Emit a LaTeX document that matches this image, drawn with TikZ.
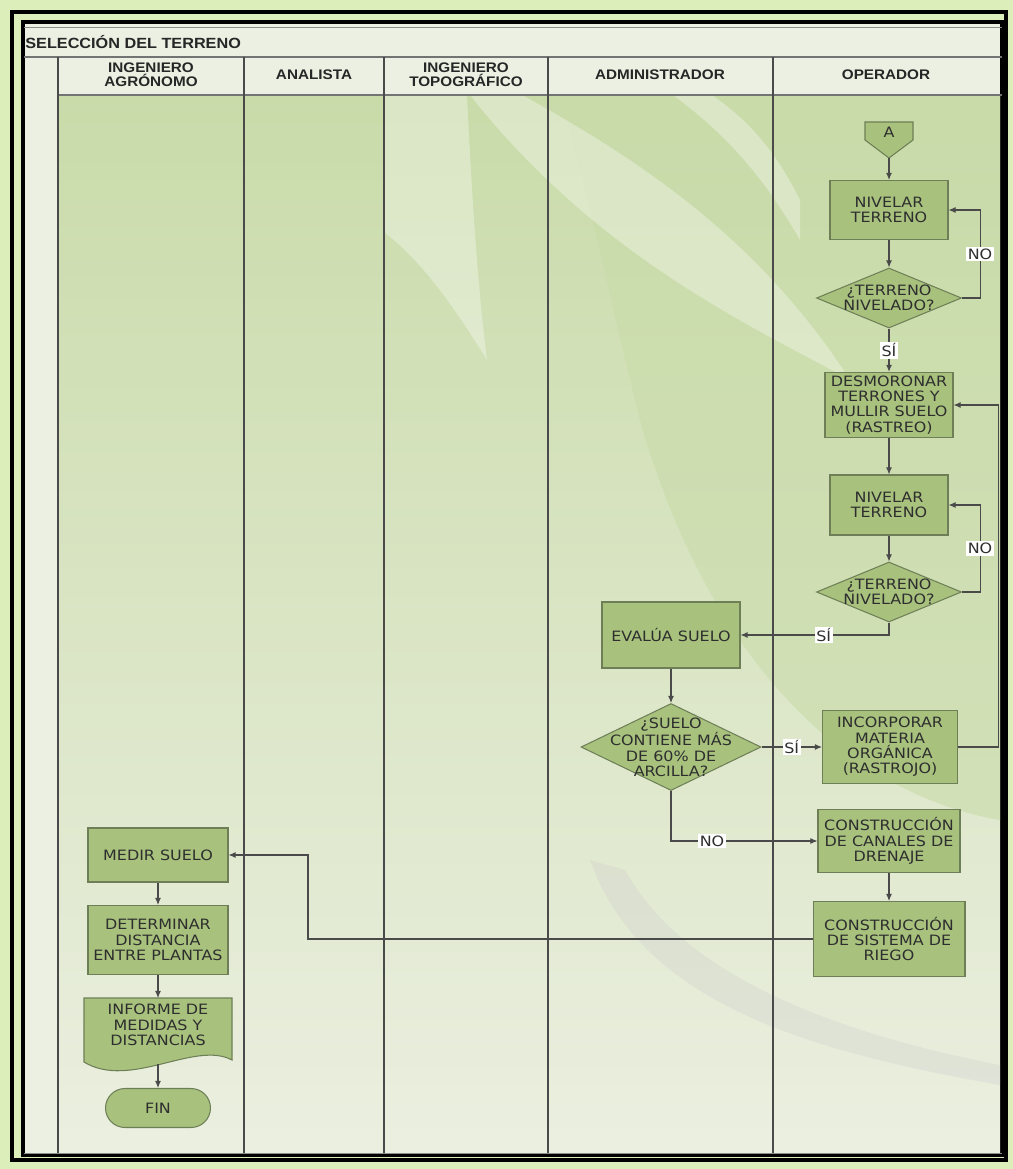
\documentclass[tikz,border=0pt]{standalone}
\usepackage{fontspec}
\usetikzlibrary{shapes.geometric,shapes.misc,arrows.meta}
\newfontfamily\cajafont[FakeStretch=1.12]{DejaVu Sans}
\newfontfamily\encfont[FakeStretch=1.1]{Liberation Sans}
\definecolor{verdecaja}{HTML}{A8C27E}
\definecolor{bordecaja}{HTML}{6E7F57}
\definecolor{textocaja}{HTML}{2E2E2E}
\definecolor{lima}{HTML}{DCEFBA}
\definecolor{fondoclaro}{HTML}{ECF0E2}
\definecolor{carril}{HTML}{C9DBA9}
\definecolor{carrilbajo}{HTML}{EBEFE0}
\definecolor{linea}{HTML}{4A4A4A}

\tikzset{
  caja/.style={draw=bordecaja, fill=verdecaja, line width=0.6pt, text=textocaja,
    font=\cajafont\fontsize{8.1}{8.7}\selectfont, align=center, inner sep=2pt},
  decision/.style={diamond, draw=bordecaja, fill=verdecaja, line width=0.6pt, inner sep=0pt},
  textodec/.style={text=textocaja, font=\cajafont\fontsize{8.1}{8.7}\selectfont, align=center, inner sep=0pt},
  flecha/.style={draw=linea, line width=0.6pt, -{Latex[length=4pt,width=3.4pt]}},
  etiq/.style={fill=white, inner sep=1pt, text=textocaja, font=\cajafont\fontsize{8.1}{8.7}\selectfont},
  cabecera/.style={text=black!85, font=\encfont\bfseries\fontsize{7.9}{7.8}\selectfont, align=center},
  carrilinea/.style={draw=linea, line width=0.7pt},
  brillo/.style={fill=white, fill opacity=0.33, draw=none},
}

\begin{document}
\begin{tikzpicture}[x={(0.02cm,0)}, y={(0,-0.02cm)}]
    \useasboundingbox (0,0) rectangle (1013,1169);
    % marco
    \fill[lima] (0,0) rectangle (1013,1169);
    \fill[fondoclaro] (24,23) rectangle (1002,1155);
    \draw[black, line width=2.6pt] (12,12) rectangle (1006,1160);
    \draw[black, line width=2.2pt] (23,22) rectangle (1002,1155);
    % carriles
    \fill[top color=carril, bottom color=carrilbajo] (58,95) rectangle (1000,1153);
    \fill[carril, fill opacity=0.6] (560,95) -- (1000,95) -- (1000,820) .. controls (880,800) and (720,700) .. (640,420) .. controls (610,300) and (590,200) .. (560,95) -- cycle;
    \fill[brillo] (384,95) -- (467,95) .. controls (472,200) and (478,290) .. (487,360) .. controls (450,300) and (420,260) .. (384,232) -- cycle;
    \fill[brillo] (470,95) -- (522,95) .. controls (640,160) and (760,240) .. (850,380) .. controls (760,330) and (600,260) .. (470,95) -- cycle;
    \fill[brillo] (673,95) -- (712,95) .. controls (740,115) and (770,140) .. (800,200) -- (800,240) .. controls (760,170) and (720,130) .. (673,95) -- cycle;
    \fill[black!20, fill opacity=0.3] (590,860) .. controls (640,1000) and (800,1050) .. (1000,1085) -- (1000,1065) .. controls (820,1030) and (680,970) .. (625,870) -- cycle;
    % cabecera
    \draw[black!45, line width=0.5pt] (24,27) -- (1002,27);
    \draw[black!55, line width=0.6pt] (24,57) -- (1002,57);
    \draw[black!55, line width=0.6pt] (58,95) -- (1002,95);
    \foreach \xc in {58,244,384,548,773}
        \draw[carrilinea] (\xc,57) -- (\xc,1153);
    \draw[black!45, line width=0.5pt] (24,1153) -- (1002,1153);
    \node[anchor=west, inner sep=0pt, text=black!85, font=\encfont\bfseries\fontsize{8.4}{9}\selectfont] (titulo) at (25,42) {SELECCIÓN DEL TERRENO};
    \node[cabecera] (agronomo) at (151,75) {INGENIERO\\AGRÓNOMO};
    \node[cabecera] (analista) at (314,75) {ANALISTA};
    \node[cabecera] (topografo) at (466,75) {INGENIERO\\TOPOGRÁFICO};
    \node[cabecera] (admin) at (660,75) {ADMINISTRADOR};
    \node[cabecera] (operador) at (886,75) {OPERADOR};

    % operador
    \filldraw[draw=bordecaja, fill=verdecaja, line width=0.6pt] (865,122) -- (913,122) -- (913,140) -- (889,158) -- (865,140) -- cycle;
    \node[textodec] (conA) at (889,132) {A};
    \coordinate (puntaA) at (889,158);
    \node[caja, minimum width=2.36cm, minimum height=1.18cm] (niv1) at (889,210) {NIVELAR\\TERRENO};
    \node[decision, minimum width=2.9cm, minimum height=1.2cm,
        label={[textodec]center:{¿TERRENO\\NIVELADO?}}] (dec1) at (889,298) {};
    \node[caja, minimum width=2.56cm, minimum height=1.28cm] (desm) at (889,405) {DESMORONAR\\TERRONES Y\\MULLIR SUELO\\(RASTREO)};
    \node[caja, minimum width=2.36cm, minimum height=1.2cm] (niv2) at (889,505) {NIVELAR\\TERRENO};
    \node[decision, minimum width=2.9cm, minimum height=1.2cm,
        label={[textodec]center:{¿TERRENO\\NIVELADO?}}] (dec2) at (889,592) {};
    \node[caja, minimum width=2.7cm, minimum height=1.46cm] (incorp) at (890,747) {INCORPORAR\\MATERIA\\ORGÁNICA\\(RASTROJO)};
    \node[caja, minimum width=2.84cm, minimum height=1.26cm] (canal) at (889,841) {CONSTRUCCIÓN\\DE CANALES DE\\DRENAJE};
    \node[caja, minimum width=3.04cm, minimum height=1.5cm] (riego) at (889,939) {CONSTRUCCIÓN\\DE SISTEMA DE\\RIEGO};

    % administrador
    \node[caja, minimum width=2.76cm, minimum height=1.32cm] (evalua) at (671,635) {EVALÚA SUELO};
    \node[decision, minimum width=3.6cm, minimum height=1.74cm,
        label={[textodec]center:{¿SUELO\\CONTIENE MÁS\\DE 60\% DE\\ARCILLA?}}] (dec3) at (671,747) {};

    % ingeniero agronomo
    \node[caja, minimum width=2.8cm, minimum height=1.08cm] (medir) at (158,855) {MEDIR SUELO};
    \node[caja, minimum width=2.8cm, minimum height=1.38cm] (deter) at (158,940) {DETERMINAR\\DISTANCIA\\ENTRE PLANTAS};
    \filldraw[draw=bordecaja, fill=verdecaja, line width=0.6pt] (84,998) -- (232,998) -- (232,1060) .. controls (195,1040) and (130,1090) .. (84,1062) -- cycle;
    \node[textodec, minimum height=1.08cm] (informe) at (158,1025) {INFORME DE\\MEDIDAS Y\\DISTANCIAS};
    \coordinate (topeinf) at (158,998);
    \coordinate (baseinf) at (158,1064);
    \node[caja, rounded rectangle, minimum width=2.24cm, minimum height=0.78cm] (fin) at (158,1108) {FIN};
    \coordinate (codo) at (308,855);

    % conectores
    \draw[flecha] (puntaA) -- (niv1.north);
    \draw[flecha] (niv1) -- (dec1.north);
    \draw[flecha] (dec1.east) -- ++(18,0) |- node[etiq, pos=0.25] {NO} (niv1.east);
    \draw[flecha] (dec1.south) -- node[etiq] {SÍ} (desm.north);
    \draw[flecha] (desm) -- (niv2.north);
    \draw[flecha] (niv2) -- (dec2.north);
    \draw[flecha] (dec2.east) -- ++(18,0) |- node[etiq, pos=0.25] {NO} (niv2.east);
    \draw[flecha] (dec2.south) |- node[etiq, pos=0.72] {SÍ} (evalua.east);
    \draw[flecha] (evalua) -- (dec3.north);
    \draw[flecha] (dec3.east) -- node[etiq] {SÍ} (incorp.west);
    \draw[flecha] (incorp.east) -- ++(40,0) |- (desm.east);
    \draw[flecha] (dec3.south) |- node[etiq, pos=0.64] {NO} (canal.west);
    \draw[flecha] (canal) -- (riego.north);
    \draw[flecha] (riego.west) -| (codo) -- (medir.east);
    \draw[flecha] (medir) -- (deter.north);
    \draw[flecha] (deter.south) -- (topeinf);
    \draw[flecha] (baseinf) -- (fin.north);
\end{tikzpicture}
\end{document}
